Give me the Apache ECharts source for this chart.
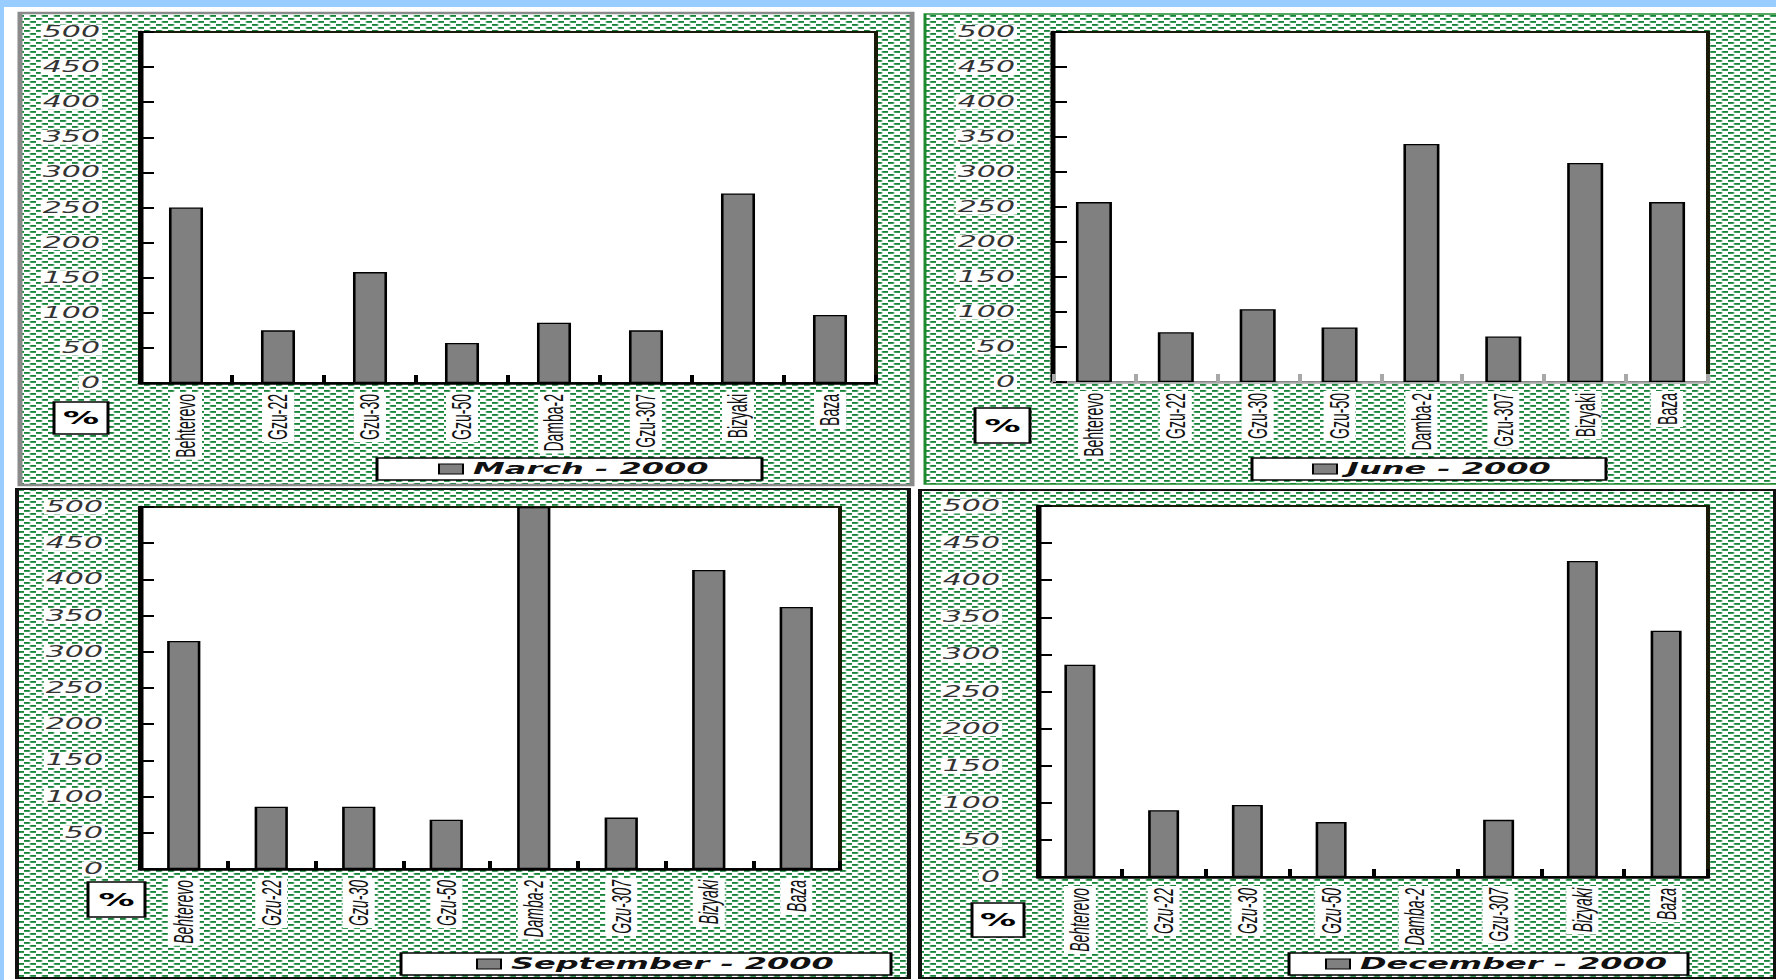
<!DOCTYPE html>
<html>
<head>
<meta charset="utf-8">
<script src="https://cdn.jsdelivr.net/npm/echarts@6/dist/echarts.min.js"></script>
<style>
  html, body { margin: 0; padding: 0; width: 1776px; height: 980px; overflow: hidden; background: #99ccff; }
  #sheet { position: absolute; left: 4px; top: 7px; width: 1772px; height: 973px; background: #ffffff; }
  /* the sheet is drawn at half width and stretched 2x horizontally */
  #chart { position: absolute; left: 0; top: 0; width: 888px; height: 980px; transform: scale(2, 1); transform-origin: 0 0; }
</style>
</head>
<body>
<div id="sheet"></div>
<div id="chart"></div>
<script>
// ---- data ----
const categories = ['Behterevo', 'Gzu-22', 'Gzu-30', 'Gzu-50', 'Damba-2', 'Gzu-307', 'Bizyaki', 'Baza'];
const march     = [250, 75, 158, 57, 86, 75, 270, 97];
const june      = [257, 71, 104, 78, 340, 65, 313, 257];
const september = [315, 86, 86, 68, 500, 71, 413, 362];
const december  = [286, 90, 97, 74, 0, 77, 426, 332];
const seriesNames = ['March - 2000', 'June - 2000', 'September - 2000', 'December - 2000'];
const yMin = 0, yMax = 500, yStep = 50;
const unitLabel = '%';

// ---- layout (screen pixels; x is divided by the horizontal stretch) ----
const SX = 2;
const px = v => v / SX;
const panels = [
  { values: march,     frame: [20, 13, 912, 485],  frameColor: '#8a8a8a', frameWidth: 2.5,
    grid: [140, 32, 876, 383],  yMargin: 38, barW: '37%', xColor: '#000', italic: false,
    unitBox: [54, 402, 108, 434],  legendBox: [377, 458, 762, 480],  iconX: 438 },
  { values: june,      frame: [925, 14, 1790, 484], frameColor: '#1e8a2e', frameWidth: 1.5,
    grid: [1053, 32, 1708, 382], yMargin: 36, barW: '44%', xColor: '#a8a8a8', italic: false,
    unitBox: [975, 408, 1030, 443], legendBox: [1252, 458, 1606, 480], iconX: 1312 },
  { values: september, frame: [17, 489, 909, 978], frameColor: '#111', frameWidth: 2,
    grid: [140, 507, 840, 869],  yMargin: 35, barW: '38%', xColor: '#000', italic: true,
    unitBox: [88, 882, 145, 917],  legendBox: [401, 953, 891, 975],  iconX: 476 },
  { values: december,  frame: [920, 490, 1775, 978], frameColor: '#111', frameWidth: 2,
    grid: [1038, 506, 1708, 877], yMargin: 36, barW: '37%', xColor: '#000', italic: true,
    unitBox: [972, 903, 1024, 937], legendBox: [1289, 953, 1688, 975], iconX: 1325 }
];

// green dashed fill tile (staggered short dashes)
function makeTile() {
  const c = document.createElement('canvas');
  c.width = 6; c.height = 6;
  const g = c.getContext('2d');
  g.fillStyle = '#ffffff'; g.fillRect(0, 0, 6, 6);
  g.fillStyle = '#17813a'; g.fillRect(0, 0, 3, 1); g.fillRect(3, 3, 3, 1);
  g.fillStyle = '#3a9a58'; g.fillRect(0, 1, 3, 1); g.fillRect(3, 4, 3, 1);
  return c.toDataURL();
}
const tile = { image: makeTile(), repeat: 'repeat' };

const grids = [], xAxes = [], yAxes = [], series = [], legends = [], graphics = [];

panels.forEach((p, i) => {
  const [fx0, fy0, fx1, fy1] = p.frame;
  graphics.push({ type: 'rect', z: -10,
    shape: { x: px(fx0), y: fy0, width: px(fx1 - fx0), height: fy1 - fy0 },
    style: { fill: tile, stroke: p.frameColor, lineWidth: p.frameWidth } });

  const [gl, gt, gr, gb] = p.grid;
  grids.push({ left: px(gl), top: gt, width: px(gr - gl), height: gb - gt,
    show: true, backgroundColor: '#ffffff', borderColor: '#1a1a08', borderWidth: 2 });

  xAxes.push({ type: 'category', gridIndex: i, data: categories,
    axisLine: { lineStyle: { color: p.xColor, width: 2.5 } },
    axisTick: { show: true, interval: 0, inside: true, length: 8, lineStyle: { color: p.xColor, width: 2 } },
    axisLabel: { interval: 0, rotate: 90, margin: 9, color: '#111',
      fontFamily: 'Liberation Sans', fontSize: 14, fontStyle: p.italic ? 'italic' : 'normal',
      backgroundColor: '#ffffff', padding: [1, 2] } });

  yAxes.push({ type: 'value', gridIndex: i, min: yMin, max: yMax, interval: yStep,
    splitLine: { show: false },
    axisLine: { show: true, lineStyle: { color: '#000', width: 2.5 } },
    axisTick: { show: true, inside: true, length: 7, lineStyle: { color: '#000', width: 2 } },
    axisLabel: { margin: px(p.yMargin), color: '#333', fontFamily: 'DejaVu Sans',
      fontStyle: 'italic', fontSize: 15, backgroundColor: '#ffffff', padding: [0, 1],
      showMinLabel: true, showMaxLabel: true } });

  series.push({ type: 'bar', name: seriesNames[i], xAxisIndex: i, yAxisIndex: i,
    data: p.values, barWidth: p.barW,
    itemStyle: { color: '#808080', borderColor: '#000', borderWidth: 1.3 } });

  const [lx0, ly0, lx1, ly1] = p.legendBox;
  graphics.push({ type: 'rect', z: 3,
    shape: { x: px(lx0), y: ly0, width: px(lx1 - lx0), height: ly1 - ly0 },
    style: { fill: '#ffffff', stroke: '#000', lineWidth: 1.5 } });
  legends.push({ data: [seriesNames[i]], left: px(p.iconX), top: (ly0 + ly1) / 2 - 8,
    padding: 0, icon: 'rect', itemWidth: 12, itemHeight: 10, selectedMode: false,
    itemStyle: { color: '#808080', borderColor: '#000', borderWidth: 1 },
    textStyle: { color: '#111', fontFamily: 'DejaVu Sans', fontWeight: 'bold',
      fontStyle: 'italic', fontSize: 16, lineHeight: 16 } });

  const [ux0, uy0, ux1, uy1] = p.unitBox;
  graphics.push({ type: 'rect', z: 5,
    shape: { x: px(ux0), y: uy0, width: px(ux1 - ux0), height: uy1 - uy0 },
    style: { fill: '#ffffff', stroke: '#000', lineWidth: 1.5 } });
  graphics.push({ type: 'text', z: 6, x: px((ux0 + ux1) / 2), y: (uy0 + uy1) / 2,
    style: { text: unitLabel, fill: '#000', font: 'bold 18px "DejaVu Sans"',
      align: 'center', verticalAlign: 'middle' } });
});

const chart = echarts.init(document.getElementById('chart'), null,
  { renderer: 'svg', width: 888, height: 980 });
chart.setOption({
  animation: false,
  backgroundColor: 'transparent',
  grid: grids,
  xAxis: xAxes,
  yAxis: yAxes,
  legend: legends,
  series: series,
  graphic: { elements: graphics }
});
</script>
</body>
</html>
